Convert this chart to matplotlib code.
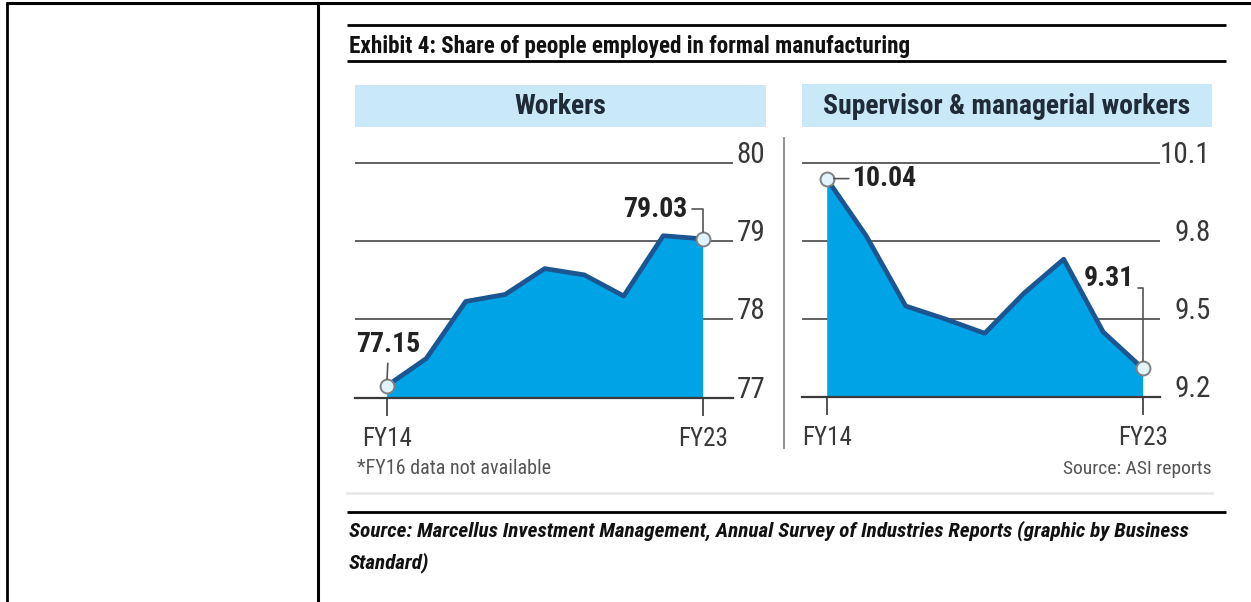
import matplotlib
matplotlib.use("Agg")
import matplotlib.pyplot as plt
from matplotlib import font_manager as fm
from matplotlib.patches import Rectangle

# ---------------- data ----------------
periods = ["FY14", "FY15", "FY17", "FY18", "FY19", "FY20", "FY21", "FY22", "FY23"]  # FY16 not available
workers = [77.15, 77.50, 78.23, 78.32, 78.65, 78.57, 78.30, 79.07, 79.03]
supervisors = [10.04, 9.82, 9.55, 9.50, 9.445, 9.60, 9.73, 9.45, 9.31]
workers_ticks = [77, 78, 79, 80]
supervisors_ticks = [9.2, 9.5, 9.8, 10.1]
workers_labels = ["77", "78", "79", "80"]
supervisors_labels = ["9.2", "9.5", "9.8", "10.1"]
workers_first_label = "77.15"
workers_last_label = "79.03"
supervisors_first_label = "10.04"
supervisors_last_label = "9.31"

title = "Exhibit 4: Share of people employed in formal manufacturing"
panel_titles = ["Workers", "Supervisor & managerial workers"]
footnote = "*FY16 data not available"
panel_source = "Source: ASI reports"
source_lines = ["Source: Marcellus Investment Management, Annual Survey of Industries Reports (graphic by Business",
                "Standard)"]

# ---------------- fonts ----------------
names = {f.name for f in fm.fontManager.ttflist}
NARROW = "DejaVu Sans"
for cand in ["Liberation Sans Narrow", "Roboto Condensed", "Open Sans Condensed", "Liberation Sans", "Roboto"]:
    if cand in names:
        NARROW = cand
        break
plt.rcParams["font.family"] = [NARROW, "DejaVu Sans"]

W, H = 1251, 602
fig = plt.figure(figsize=(W / 100, H / 100), dpi=100)
fig.patch.set_facecolor("white")

FILL = "#00a3e6"
LINE = "#1b5592"
GRID = "#555555"
TXT = "#383838"
HEADER_BG = "#c9e9f8"
HEADER_TXT = "#1f2c38"


def rect(x0, y0, x1, y1):
    return [x0 / W, 1 - y1 / H, (x1 - x0) / W, (y1 - y0) / H]


# ---------------- overlay (decorations) ----------------
ov = fig.add_axes([0, 0, 1, 1])
ov.set_xlim(0, W)
ov.set_ylim(H, 0)
ov.axis("off")

# table frame
ov.plot([7, 7], [2, H], color="black", lw=2.0, solid_capstyle="butt")
ov.plot([318, 318], [2, H], color="black", lw=2.2, solid_capstyle="butt")
ov.plot([6, W], [3, 3], color="black", lw=2.2, solid_capstyle="butt")

# title rules and title
ov.plot([347, 1226], [24.5, 24.5], color="black", lw=2.0, solid_capstyle="butt")
ov.plot([347, 1226], [60.5, 60.5], color="black", lw=2.0, solid_capstyle="butt")
ov.text(349, 46, title, fontsize=16.7, fontweight="bold", color="#111111", va="center", ha="left")

# header boxes
ov.add_patch(Rectangle((355, 85), 411, 42, facecolor=HEADER_BG, edgecolor="none"))
ov.add_patch(Rectangle((802, 84), 410, 43, facecolor=HEADER_BG, edgecolor="none"))
ov.text(560.5, 106, panel_titles[0], fontsize=20, fontweight="bold", color=HEADER_TXT, ha="center", va="center")
ov.text(1007, 106, panel_titles[1], fontsize=20, fontweight="bold", color=HEADER_TXT, ha="center", va="center")

# divider between panels
ov.plot([784, 784], [138, 448], color="#888888", lw=1.3)

# footnotes
ov.text(357, 469, footnote, fontsize=14.5, color="#555555", ha="left", va="center")
ov.text(1212, 469, panel_source, fontsize=14, color="#555555", ha="right", va="center")
ov.plot([347, 1212], [493, 493], color="#e6e6e6", lw=1.8)

# source
ov.plot([347, 1226], [512, 512], color="black", lw=2.0, solid_capstyle="butt")
ov.text(349, 531, source_lines[0], fontsize=15.2, fontweight="bold", fontstyle="italic", color="#111111",
        ha="left", va="center")
ov.text(349, 563, source_lines[1], fontsize=15.2, fontweight="bold", fontstyle="italic", color="#111111",
        ha="left", va="center")


# ---------------- panels ----------------
def panel(box, vals, ticks, tlabels, ylim, xlim, label_pad_pt, first_lbl, last_lbl, first_off, last_off,
          first_style, last_relpos):
    ax = fig.add_axes(rect(*box))
    ax.set_facecolor("none")
    x = list(range(len(vals)))
    base = ticks[0]
    ax.fill_between(x, vals, base, color=FILL, lw=0, zorder=2)
    ax.plot(x, vals, color=LINE, lw=3.4, solid_joinstyle="round", solid_capstyle="round", zorder=3)
    ax.set_xlim(*xlim)
    ax.set_ylim(*ylim)
    for s in ["top", "left", "right"]:
        ax.spines[s].set_visible(False)
    ax.spines["bottom"].set_position(("data", base))
    ax.spines["bottom"].set_color("#3a3a3a")
    ax.spines["bottom"].set_linewidth(1.6)
    ax.spines["bottom"].set_zorder(4)
    ax.set_yticks(ticks)
    ax.set_yticklabels(tlabels)
    ax.yaxis.tick_right()
    ax.grid(axis="y", color=GRID, lw=1.3, zorder=1)
    ax.set_axisbelow(True)
    ax.tick_params(axis="y", length=0, pad=label_pad_pt, labelsize=21, labelcolor=TXT)
    for lb in ax.get_yticklabels():
        lb.set_ha("right")
        lb.set_va("baseline")

    ax.set_xticks([x[0], x[-1]])
    ax.set_xticklabels([periods[0], periods[-1]])
    ax.tick_params(axis="x", direction="out", length=13, width=1.3, color="#444444", pad=8,
                   labelsize=18, labelcolor=TXT)

    # end markers
    ax.plot([x[0], x[-1]], [vals[0], vals[-1]], "o", ms=10, mfc="#e2f4fb", mec="#808080", mew=1.4,
            zorder=6, clip_on=False)

    if first_style == "above":
        ax.annotate(first_lbl, xy=(x[0], vals[0]), xytext=first_off, textcoords="offset points",
                    fontsize=20, fontweight="bold", color="#222222", ha="center", va="center",
                    arrowprops=dict(arrowstyle="-", color="#555555", lw=1.2, shrinkA=2, shrinkB=5,
                                    relpos=(0.5, 0.0)), zorder=7)
    else:
        ax.annotate(first_lbl, xy=(x[0], vals[0]), xytext=first_off, textcoords="offset points",
                    fontsize=20, fontweight="bold", color="#222222", ha="center", va="center",
                    arrowprops=dict(arrowstyle="-", color="#555555", lw=1.2, shrinkA=1, shrinkB=5,
                                    relpos=(0.0, 0.5)), zorder=7)
    ax.annotate(last_lbl, xy=(x[-1], vals[-1]), xytext=last_off, textcoords="offset points",
                fontsize=20, fontweight="bold", color="#222222", ha="center", va="center",
                arrowprops=dict(arrowstyle="-", color="#555555", lw=1.2, shrinkA=1, shrinkB=5,
                                relpos=last_relpos,
                                connectionstyle="angle,angleA=0,angleB=90,rad=0"), zorder=7)
    return ax


# Workers panel: x from 355 to 733 px, y from 150 to 420 px
panel((355, 150, 733, 420), workers, workers_ticks, workers_labels,
      ylim=(77 - (420 - 397.7) / 78.2, 80 + (163 - 150) / 78.2),
      xlim=(-(386.7 - 355) / 39.5, 8 + (733 - 702.7) / 39.5),
      label_pad_pt=(765 - 733) * 0.72,
      first_lbl=workers_first_label, last_lbl=workers_last_label,
      first_off=(1, 30), last_off=(-34, 21.5), first_style="above", last_relpos=(1.0, 0.5))

# Supervisor panel: x from 802 to 1160 px
panel((802, 150, 1160, 420), supervisors, supervisors_ticks, supervisors_labels,
      ylim=(9.2 - (420 - 397) / 260, 10.1 + (163 - 150) / 260),
      xlim=(-(826.7 - 802) / 39.5, 8 + (1160 - 1142.7) / 39.5),
      label_pad_pt=(1211 - 1160) * 0.72,
      first_lbl=supervisors_first_label, last_lbl=supervisors_last_label,
      first_off=(42, 0), last_off=(-24.5, 65), first_style="right", last_relpos=(1.0, 0.15))

fig.savefig("out.png", dpi=100, facecolor="white")
